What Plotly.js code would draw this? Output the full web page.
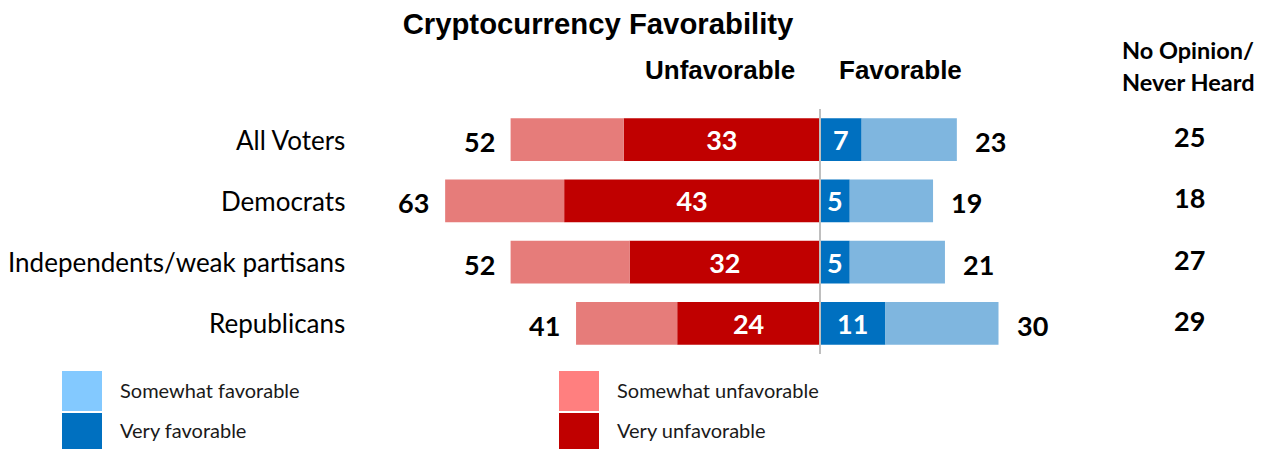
<!DOCTYPE html>
<html><head><meta charset="utf-8">
<script src="https://cdn.plot.ly/plotly-3.0.1.min.js"></script>
<style>html,body{margin:0;padding:0;background:#fff}#chart{width:1274px;height:449px}</style>
</head><body><div id="chart"></div>
<script>
const categories = ['All Voters', 'Democrats', 'Independents/weak partisans', 'Republicans'];
const veryUnfavorable = [33, 43, 32, 24];
const somewhatUnfavorable = [19, 20, 20, 17];
const unfavorableTotal = [52, 63, 52, 41];
const veryFavorable = [7, 5, 5, 11];
const somewhatFavorable = [16, 14, 16, 19];
const favorableTotal = [23, 19, 21, 30];
const noOpinion = [25, 18, 27, 29];
const legendLabels = ['Somewhat favorable', 'Very favorable', 'Somewhat unfavorable', 'Very unfavorable'];
const legendColors = ['#83C9FF', '#0070C0', '#FF7F7F', '#C00000'];

const W = 1274, H = 449, MT = 109, MB = 95;
const PH = H - MT - MB;
const px = p => p / W;
const py = p => (H - MB - p) / PH;

const numFont = {family: 'Lato, sans-serif', size: 27, weight: 700, color: '#000'};
const inFont = {family: 'Lato, sans-serif', size: 27, weight: 700, color: '#fff'};

function barTrace(vals, sign, color, withText) {
  return {
    type: 'bar', orientation: 'h', y: categories,
    x: vals.map(v => sign * v),
    marker: {color: color, line: {width: 0}},
    text: withText ? vals.map(String) : undefined,
    textposition: withText ? 'inside' : 'none',
    insidetextanchor: 'middle',
    textangle: 0,
    constraintext: 'none',
    textfont: inFont,
    hoverinfo: 'skip'
  };
}

const data = [
  barTrace(veryUnfavorable, -1, '#C00000', true),
  barTrace(somewhatUnfavorable, -1, '#E67C7A', false),
  barTrace(veryFavorable, 1, '#0070C0', true),
  barTrace(somewhatFavorable, 1, '#7FB6DF', false)
];

const annotations = [];
categories.forEach((c, i) => {
  annotations.push({xref: 'paper', yref: 'y', x: px(347), y: c, xanchor: 'right', yanchor: 'middle',
    text: c, showarrow: false, font: {family: 'Lato, sans-serif', size: 26, color: '#000'}});
  annotations.push({xref: 'x', yref: 'y', x: -unfavorableTotal[i], y: c, xanchor: 'right', yanchor: 'middle',
    xshift: -14, yshift: -2, text: String(unfavorableTotal[i]), showarrow: false, font: numFont});
  annotations.push({xref: 'x', yref: 'y', x: favorableTotal[i], y: c, xanchor: 'left', yanchor: 'middle',
    xshift: 16, yshift: -2, text: String(favorableTotal[i]), showarrow: false, font: numFont});
  annotations.push({xref: 'paper', yref: 'y', x: px(1189), y: c, xanchor: 'center', yanchor: 'middle',
    yshift: 3, text: String(noOpinion[i]), showarrow: false, font: numFont});
});

const hdrFont = {family: 'Liberation Sans, Arial, sans-serif', size: 26, weight: 700, color: '#000'};
annotations.push({xref: 'paper', yref: 'paper', x: px(797), y: py(70), xanchor: 'right', yanchor: 'middle',
  text: 'Unfavorable', showarrow: false, font: hdrFont});
annotations.push({xref: 'paper', yref: 'paper', x: px(837), y: py(70), xanchor: 'left', yanchor: 'middle',
  text: 'Favorable', showarrow: false, font: hdrFont});
const noFont = {family: 'Lato, sans-serif', size: 23.5, weight: 700, color: '#000'};
annotations.push({xref: 'paper', yref: 'paper', x: px(1188), y: py(50), xanchor: 'center', yanchor: 'middle',
  text: 'No Opinion/', showarrow: false, font: noFont});
annotations.push({xref: 'paper', yref: 'paper', x: px(1188), y: py(82), xanchor: 'center', yanchor: 'middle',
  text: 'Never Heard', showarrow: false, font: noFont});

// legend
const legX = [62, 62, 559, 559];
const legY = [[371, 411], [413, 449], [371, 411], [413, 449]];
const shapes = [{type: 'line', xref: 'x', yref: 'paper', x0: 0, x1: 0, y0: 0, y1: 1,
  line: {color: '#BFBFBF', width: 2}, layer: 'above'}];
legendLabels.forEach((lab, i) => {
  shapes.push({type: 'rect', xref: 'paper', yref: 'paper', x0: px(legX[i]), x1: px(legX[i] + 40),
    y0: py(legY[i][1]), y1: py(legY[i][0]), fillcolor: legendColors[i], line: {width: 0}});
  annotations.push({xref: 'paper', yref: 'paper', x: px(legX[i] + 56), y: py((legY[i][0] + legY[i][1]) / 2 - 1),
    xanchor: 'left', yanchor: 'middle', text: lab, showarrow: false,
    font: {family: 'Lato, sans-serif', size: 20, color: '#1a1a1a'}});
});

const layout = {
  width: W, height: H,
  margin: {l: 0, r: 0, t: MT, b: MB, pad: 0},
  paper_bgcolor: '#fff', plot_bgcolor: '#fff',
  barmode: 'relative', bargap: 0.3,
  showlegend: false,
  title: {text: 'Cryptocurrency Favorability', xref: 'container', yref: 'container',
    x: px(598), xanchor: 'center', y: 1 - 24 / H, yanchor: 'middle',
    font: {family: 'Liberation Sans, Arial, sans-serif', size: 29.3, weight: 700, color: '#000'}},
  xaxis: {range: [-820 / 5.95, (W - 820) / 5.95], visible: false, fixedrange: true, zeroline: false},
  yaxis: {type: 'category', categoryorder: 'array', categoryarray: categories, range: [3.5, -0.5],
    visible: false, fixedrange: true},
  annotations: annotations,
  shapes: shapes
};

Plotly.newPlot('chart', data, layout, {displayModeBar: false, staticPlot: true});
</script>
</body></html>
